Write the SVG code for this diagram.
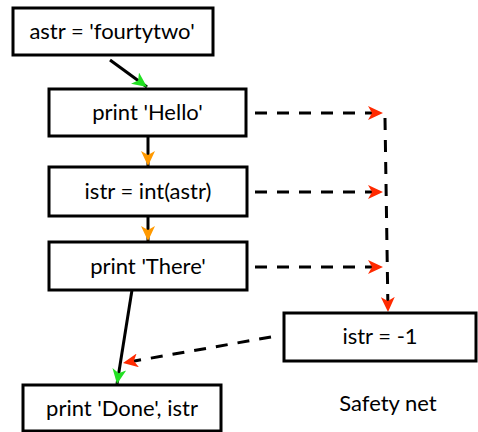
<svg xmlns="http://www.w3.org/2000/svg" width="478" height="432" viewBox="0 0 478 432">
  <style>
    .box rect { fill: #fff; stroke: #000; stroke-width: 3; }
    text { font-family: Lato, "Open Sans", "DejaVu Sans", sans-serif; font-size: 22px; fill: #000; text-anchor: middle; }
    .flow { stroke: #000; stroke-width: 3; fill: none; }
    .dash { stroke: #000; stroke-width: 3; fill: none; stroke-dasharray: 12 10; }
  </style>
  <defs>
    <marker id="green" markerUnits="userSpaceOnUse" markerWidth="16" markerHeight="14" refX="15" refY="7" orient="auto">
      <path d="M0,0 L15,7 L0,14 L4,7 z" fill="#22e022"/>
    </marker>
    <marker id="orange" markerUnits="userSpaceOnUse" markerWidth="16" markerHeight="14" refX="15" refY="7" orient="auto">
      <path d="M0,0 L15,7 L0,14 L4,7 z" fill="#ff9900"/>
    </marker>
    <marker id="red" markerUnits="userSpaceOnUse" markerWidth="16" markerHeight="14" refX="15" refY="7" orient="auto">
      <path d="M0,0 L15,7 L0,14 L4,7 z" fill="#ff2a00"/>
    </marker>
  </defs>

  <g id="connectors">
    <line class="flow" x1="110" y1="60" x2="147" y2="87" marker-end="url(#green)"/>
    <line class="flow" x1="148" y1="137" x2="148" y2="166" marker-end="url(#orange)"/>
    <line class="flow" x1="148" y1="216" x2="148" y2="241" marker-end="url(#orange)"/>
    <line class="flow" x1="132" y1="290" x2="117" y2="384" marker-end="url(#green)"/>
    <line class="dash" x1="255" y1="113" x2="383" y2="113" marker-end="url(#red)"/>
    <line class="dash" x1="255" y1="192" x2="383" y2="192" marker-end="url(#red)"/>
    <line class="dash" x1="255" y1="267" x2="383" y2="267" marker-end="url(#red)"/>
    <line class="dash" x1="385" y1="118" x2="388" y2="312" marker-end="url(#red)"/>
    <line class="dash" x1="271" y1="337" x2="123" y2="363" marker-end="url(#red)"/>
  </g>

  <g id="n-astr" class="box">
    <rect x="13" y="8" width="200" height="47"/>
    <text x="112" y="39">astr = 'fourtytwo'</text>
  </g>
  <g id="n-hello" class="box">
    <rect x="49" y="89" width="197" height="47"/>
    <text x="147.5" y="120">print 'Hello'</text>
  </g>
  <g id="n-int" class="box">
    <rect x="49" y="167" width="198" height="49"/>
    <text x="148" y="199">istr = int(astr)</text>
  </g>
  <g id="n-there" class="box">
    <rect x="49" y="242" width="198" height="48"/>
    <text x="148" y="274">print 'There'</text>
  </g>
  <g id="n-done" class="box">
    <rect x="23" y="385" width="198" height="46"/>
    <text x="122" y="416">print 'Done', istr</text>
  </g>
  <g id="n-fallback" class="box">
    <rect x="284" y="313" width="192" height="48"/>
    <text x="380" y="344">istr = -1</text>
  </g>
  <g id="label-safety">
    <text x="388" y="411">Safety net</text>
  </g>
</svg>
